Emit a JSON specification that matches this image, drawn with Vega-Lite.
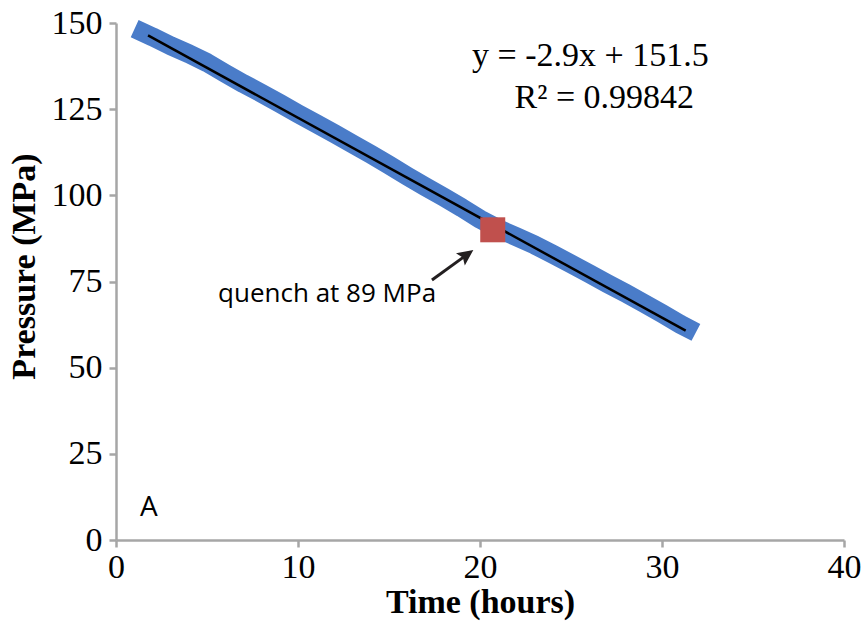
{
  "$schema": "https://vega.github.io/schema/vega-lite/v6.json",
  "width": 728,
  "height": 517,
  "autosize": {"type": "none"},
  "padding": {"left": 116, "top": 23, "right": 21, "bottom": 89},
  "background": "white",
  "config": {
    "view": {"stroke": null},
    "axis": {
      "grid": false,
      "labelFlush": false,
      "domainColor": "#a6a6a6",
      "domainWidth": 2.5,
      "tickColor": "#a6a6a6",
      "tickWidth": 2.5,
      "tickSize": 7,
      "labelFont": "Liberation Serif",
      "labelFontSize": 34,
      "labelColor": "black",
      "labelPadding": 3,
      "titleFont": "Liberation Serif",
      "titleFontSize": 34,
      "titleFontWeight": "bold",
      "titleColor": "black"
    }
  },
  "datasets": {
    "band": [
      {"t": 1.5, "p": 147.2},
      {"t": 2, "p": 146.0},
      {"t": 3, "p": 143.4},
      {"t": 4, "p": 141.1},
      {"t": 5, "p": 138.5},
      {"t": 6, "p": 135.4},
      {"t": 7, "p": 132.4},
      {"t": 8, "p": 129.6},
      {"t": 9, "p": 126.7},
      {"t": 10, "p": 123.7},
      {"t": 11, "p": 120.8},
      {"t": 12, "p": 117.9},
      {"t": 13, "p": 114.9},
      {"t": 14, "p": 111.9},
      {"t": 15, "p": 108.8},
      {"t": 16, "p": 105.6},
      {"t": 17, "p": 102.5},
      {"t": 18, "p": 99.5},
      {"t": 19, "p": 96.4},
      {"t": 20, "p": 93.1},
      {"t": 21, "p": 90.3},
      {"t": 22, "p": 88.0},
      {"t": 23, "p": 85.6},
      {"t": 24, "p": 82.9},
      {"t": 25, "p": 80.1},
      {"t": 26, "p": 77.3},
      {"t": 27, "p": 74.4},
      {"t": 28, "p": 71.6},
      {"t": 29, "p": 68.7},
      {"t": 30, "p": 65.7},
      {"t": 31, "p": 62.6},
      {"t": 31.4, "p": 61.5}
    ],
    "trend": [
      {"t": 1.76, "p": 146.4},
      {"t": 31.3, "p": 60.73}
    ],
    "quench": [{"t": 20.7, "p": 90.0}],
    "arrow": [{"t": 17.36, "p": 75.43, "t2": 19.19, "p2": 82.44}],
    "labels": [
      {"t": 26.06, "p": 137.5, "text": "y = -2.9x + 151.5"},
      {"t": 26.83, "p": 125.3, "text": "R² = 0.99842"}
    ],
    "notes": [
      {"t": 5.61, "p": 69.05, "text": "quench at 89 MPa", "size": "s"},
      {"t": 1.32, "p": 6.96, "text": "A", "size": "l"}
    ]
  },
  "layer": [
    {
      "data": {"name": "band"},
      "mark": {"type": "line", "color": "#4a7cc9", "strokeWidth": 19, "strokeCap": "square", "strokeJoin": "round"},
      "encoding": {
        "x": {"field": "t", "type": "quantitative", "scale": {"domain": [0, 40], "nice": false, "zero": false},
              "axis": {"values": [0, 10, 20, 30, 40], "title": "Time (hours)", "titleY": 72, "titleBaseline": "alphabetic", "labelPadding": 3}},
        "y": {"field": "p", "type": "quantitative", "scale": {"domain": [0, 150], "nice": false},
              "axis": {"values": [0, 25, 50, 75, 100, 125, 150], "labelPadding": 7, "title": "Pressure (MPa)", "titleX": -82, "titleY": 243, "titleBaseline": "alphabetic", "titleAlign": "center"}}
      }
    },
    {
      "data": {"name": "trend"},
      "mark": {"type": "line", "color": "black", "strokeWidth": 2.5},
      "encoding": {
        "x": {"field": "t", "type": "quantitative"},
        "y": {"field": "p", "type": "quantitative"}
      }
    },
    {
      "data": {"name": "quench"},
      "mark": {"type": "point", "shape": "square", "filled": true, "color": "#c0504d", "opacity": 1, "size": 625},
      "encoding": {
        "x": {"field": "t", "type": "quantitative"},
        "y": {"field": "p", "type": "quantitative"}
      }
    },
    {
      "data": {"name": "arrow"},
      "mark": {"type": "rule", "color": "#231f20", "strokeWidth": 3},
      "encoding": {
        "x": {"field": "t", "type": "quantitative"},
        "y": {"field": "p", "type": "quantitative"},
        "x2": {"field": "t2"},
        "y2": {"field": "p2"}
      }
    },
    {
      "data": {"name": "arrow"},
      "mark": {"type": "point", "shape": "M0,-1L0.75,0.6L0,0.3L-0.75,0.6Z", "filled": true, "color": "#231f20", "opacity": 1, "size": 400, "angle": 54},
      "encoding": {
        "x": {"field": "t2", "type": "quantitative"},
        "y": {"field": "p2", "type": "quantitative"}
      }
    },
    {
      "data": {"name": "labels"},
      "mark": {"type": "text", "font": "Liberation Serif", "fontSize": 34, "align": "center", "baseline": "alphabetic", "color": "black"},
      "encoding": {
        "x": {"field": "t", "type": "quantitative"},
        "y": {"field": "p", "type": "quantitative"},
        "text": {"field": "text"}
      }
    },
    {
      "data": {"name": "notes"},
      "transform": [{"filter": "datum.size == 's'"}],
      "mark": {"type": "text", "font": "Open Sans", "fontSize": 26, "align": "left", "baseline": "alphabetic", "color": "black"},
      "encoding": {
        "x": {"field": "t", "type": "quantitative"},
        "y": {"field": "p", "type": "quantitative"},
        "text": {"field": "text"}
      }
    },
    {
      "data": {"name": "notes"},
      "transform": [{"filter": "datum.size == 'l'"}],
      "mark": {"type": "text", "font": "Open Sans", "fontSize": 28, "align": "left", "baseline": "alphabetic", "color": "black"},
      "encoding": {
        "x": {"field": "t", "type": "quantitative"},
        "y": {"field": "p", "type": "quantitative"},
        "text": {"field": "text"}
      }
    }
  ]
}
